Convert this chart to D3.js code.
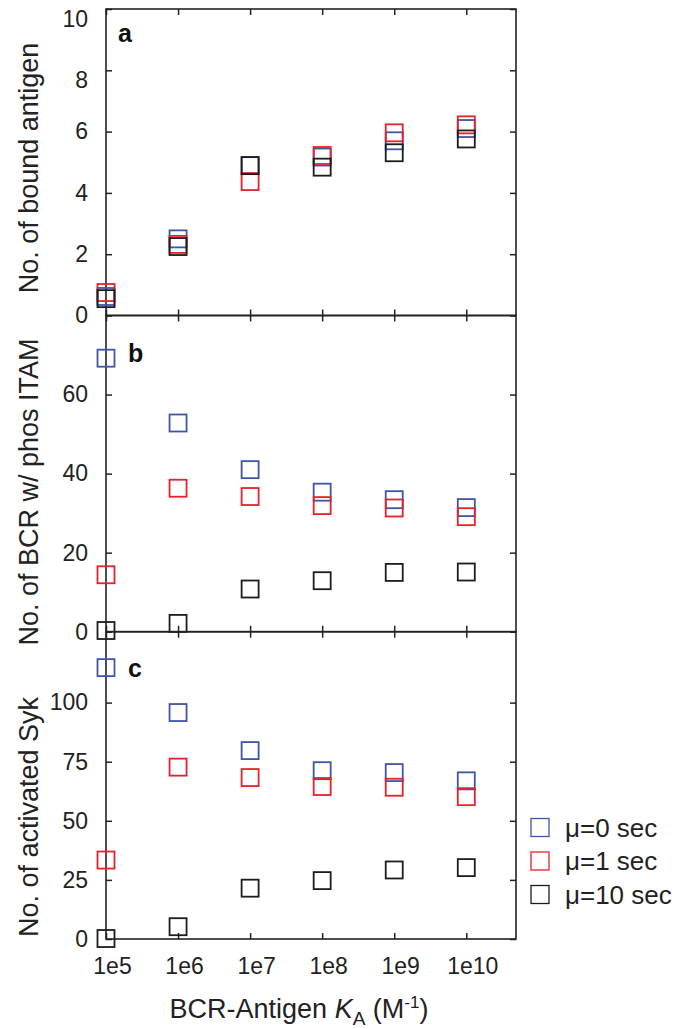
<!DOCTYPE html>
<html>
<head>
<meta charset="utf-8">
<script src="https://cdn.jsdelivr.net/npm/d3@7"></script>
<style>
  body { margin: 0; background: #fff; }
  svg { display: block; font-family: "Liberation Sans", Arial, Helvetica, sans-serif; }
</style>
</head>
<body>
<svg></svg>
<script>
// affinity values on the x axis
let kaValues = [1e5, 1e6, 1e7, 1e8, 1e9, 1e10]
let kaLabels = ['1e5', '1e6', '1e7', '1e8', '1e9', '1e10']

let seriesNames = ['\u03bc=0 sec', '\u03bc=1 sec', '\u03bc=10 sec']
let seriesColors = ['#3f55a6', '#e3222b', '#1c1c1c']

// panel a: bound antigen
let boundMu0 = [0.62, 2.5, 4.89, 5.17, 5.7, 6.1]
let boundMu1 = [0.75, 2.32, 4.37, 5.22, 5.96, 6.22]
let boundMu10 = [0.55, 2.25, 4.89, 4.84, 5.31, 5.76]

// panel b: BCR with phosphorylated ITAM
let itamMu0 = [69.2, 52.8, 41.0, 35.3, 33.4, 31.4]
let itamMu1 = [14.4, 36.3, 34.2, 31.9, 31.3, 29.1]
let itamMu10 = [0.3, 2.1, 10.8, 12.9, 15.0, 15.1]

// panel c: activated Syk
let sykMu0 = [114.8, 95.8, 79.7, 71.2, 70.4, 66.9]
let sykMu1 = [33.4, 72.7, 68.3, 64.5, 64.2, 60.2]
let sykMu10 = [0.2, 5.2, 21.5, 24.7, 29.2, 30.2]

let ticksA = [0, 2, 4, 6, 8, 10]
let ticksB = [0, 20, 40, 60]
let ticksC = [0, 25, 50, 75, 100]

let width = 680
let height = 1029
let left = 106
let right = 516
let tickLen = 6

let svg = d3.select('svg')
    .attr('width', width)
    .attr('height', height)

let xScale = d3.scaleLog()
    .domain([1e5, Math.pow(10, 10.69)])
    .range([left, right])

let panels = [
    { label: 'a', title: 'No. of bound antigen', series: [boundMu0, boundMu1, boundMu10],
      domain: [0, 10], top: 9, bottom: 315.5, ticks: ticksA, titleY: 168, labelX: 118, labelY: 42 },
    { label: 'b', title: 'No. of BCR w/ phos ITAM', series: [itamMu0, itamMu1, itamMu10],
      domain: [0, 80], top: 315.5, bottom: 631.7, ticks: ticksB, titleY: 492, labelX: 128, labelY: 362 },
    { label: 'c', title: 'No. of activated Syk', series: [sykMu0, sykMu1, sykMu10],
      domain: [0, 130], top: 631.7, bottom: 939, ticks: ticksC, titleY: 817, labelX: 128, labelY: 677 }
]

let styleAxis = (g) => {
    g.select('.domain').remove()
    g.selectAll('line').attr('stroke', '#222').attr('stroke-width', 1.5)
    g.selectAll('text').attr('fill', '#222').style('font-size', '23px').attr('font-family', null)
}

let drawPanel = (p, i) => {
    let yScale = d3.scaleLinear()
        .domain(p.domain)
        .range([p.bottom, p.top])

    // left axis with labels
    let lg = svg.append('g')
       .attr('transform', 'translate(' + left + ', 0)')
       .call(d3.axisLeft(yScale).tickValues(p.ticks).tickSizeInner(-tickLen).tickSizeOuter(0).tickPadding(18))
       .call(styleAxis)
    if (i === 0) {
        // top labels of panel a sit a little lower in the original
        lg.selectAll('.tick text').filter(d => d >= 8).attr('dy', '0.75em')
    }

    // right axis, ticks only
    svg.append('g')
       .attr('transform', 'translate(' + right + ', 0)')
       .call(d3.axisRight(yScale).tickValues(p.ticks).tickSizeInner(-tickLen).tickSizeOuter(0).tickFormat(''))
       .call(styleAxis)

    // top axis, ticks only
    svg.append('g')
       .attr('transform', 'translate(0, ' + p.top + ')')
       .call(d3.axisTop(xScale).tickValues(kaValues).tickSizeInner(-tickLen).tickSizeOuter(0).tickFormat(''))
       .call(styleAxis)

    // bottom axis, labels only on last panel
    let bottomAxis = d3.axisBottom(xScale).tickValues(kaValues).tickSizeInner(-tickLen).tickSizeOuter(0).tickPadding(19)
    if (i === panels.length - 1) {
        bottomAxis.tickFormat((d, j) => kaLabels[j])
    } else {
        bottomAxis.tickFormat('')
    }
    let bg = svg.append('g')
       .attr('transform', 'translate(0, ' + p.bottom + ')')
       .call(bottomAxis)
       .call(styleAxis)
    bg.selectAll('text').attr('dx', 6)

    // frame
    svg.append('rect')
       .attr('x', left)
       .attr('y', p.top)
       .attr('width', right - left)
       .attr('height', p.bottom - p.top)
       .attr('fill', 'none')
       .attr('stroke', '#222')
       .attr('stroke-width', 1.6)

    // panel letter
    svg.append('text')
       .attr('x', p.labelX)
       .attr('y', p.labelY)
       .attr('font-weight', 'bold')
       .style('font-size', '25px')
       .attr('fill', '#111')
       .text(p.label)

    // y title
    svg.append('text')
       .attr('transform', 'translate(38, ' + p.titleY + ') rotate(-90)')
       .attr('text-anchor', 'middle')
       .style('font-size', '27px')
       .attr('fill', '#222')
       .text(p.title)

    // squares
    let size = 17
    p.series.forEach((values, s) => {
        svg.append('g')
           .selectAll('rect')
           .data(values)
           .enter()
           .append('rect')
           .attr('x', (d, j) => xScale(kaValues[j]) - size / 2)
           .attr('y', d => yScale(d) - size / 2)
           .attr('width', size)
           .attr('height', size)
           .attr('fill', 'none')
           .attr('stroke', seriesColors[s])
           .attr('stroke-width', 1.8)
    })
}

panels.forEach(drawPanel)

// x title
let xTitle = svg.append('text')
    .attr('x', 299)
    .attr('y', 1018)
    .attr('text-anchor', 'middle')
    .style('font-size', '27px')
    .attr('fill', '#222')
xTitle.append('tspan').text('BCR-Antigen ')
xTitle.append('tspan').attr('font-style', 'italic').text('K')
xTitle.append('tspan').attr('dy', 7).style('font-size', '19px').text('A')
xTitle.append('tspan').attr('dy', -7).text(' (M')
xTitle.append('tspan').attr('dy', -10).style('font-size', '17px').text('-1')
xTitle.append('tspan').attr('dy', 10).text(')')

// legend
let legend = svg.append('g')
legend.selectAll('rect')
    .data(seriesNames)
    .enter()
    .append('rect')
    .attr('x', 531)
    .attr('y', (d, i) => 818.5 + i * 33.5)
    .attr('width', 18)
    .attr('height', 18)
    .attr('fill', 'none')
    .attr('stroke', (d, i) => seriesColors[i])
    .attr('stroke-width', 1.3)
legend.selectAll('text')
    .data(seriesNames)
    .enter()
    .append('text')
    .attr('x', 565)
    .attr('y', (d, i) => 836.5 + i * 33.5)
    .style('font-size', '26px')
    .attr('fill', '#222')
    .text(d => d)
</script>
</body>
</html>
